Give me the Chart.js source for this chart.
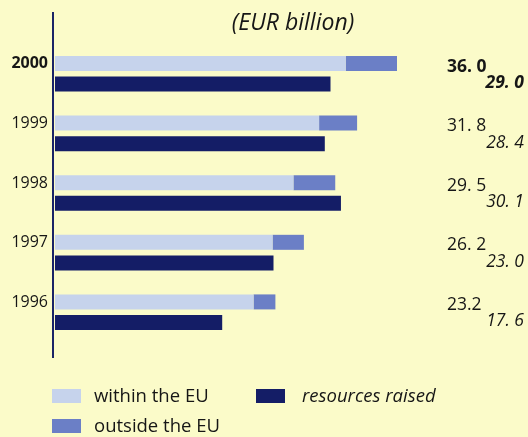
<html><head><meta charset="UTF-8"><title>EIB financing</title>
<style>
body { margin: 0; background: #fbfbc9; }
#wrap { position: relative; width: 528px; height: 437px; }
</style>
<script src="https://cdn.jsdelivr.net/npm/chart.js"></script>
</head>
<body>
<div id="wrap"><canvas id="eibChart" width="528" height="437"></canvas></div>
<script>
const years = ['2000', '1999', '1998', '1997', '1996'];
const withinEU = [30.6, 27.8, 25.1, 22.9, 20.9];
const outsideEU = [5.4, 4.0, 4.4, 3.3, 2.3];
const raised = [29.0, 28.4, 30.1, 23.0, 17.6];
const totalLabels = ['36. 0', '31. 8', '29. 5', '26. 2', '23.2'];
const raisedLabels = ['29. 0', '28. 4', '30. 1', '23. 0', '17. 6'];

const FONT = "'Open Sans', 'Noto Sans', sans-serif";
const INK = '#161616';

// axis line, title, value labels and legend
const extras = {
    id: 'extras',
    afterDraw(chart) {
        const ctx = chart.ctx;
        const area = chart.chartArea;
        ctx.save();

        ctx.fillStyle = '#1a2466';
        ctx.fillRect(area.left - 3, 12, 2, 346);

        ctx.fillStyle = INK;
        ctx.font = 'italic 23px ' + FONT;
        ctx.textAlign = 'center';
        ctx.textBaseline = 'middle';
        ctx.fillText('(EUR billion)', 293, 23);

        const outMeta = chart.getDatasetMeta(1);
        const rMeta = chart.getDatasetMeta(2);
        for (let i = 0; i < years.length; i++) {
            ctx.textAlign = 'left';
            ctx.font = (i === 0 ? 'bold ' : '') + '17.5px ' + FONT;
            ctx.fillText(totalLabels[i], 447, outMeta.data[i].y + 3);
            ctx.textAlign = 'right';
            ctx.font = 'italic ' + (i === 0 ? 'bold ' : '') + '17.5px ' + FONT;
            ctx.fillText(raisedLabels[i], 524, rMeta.data[i].y - 1);
        }

        const items = [
            { ds: 0, x: 52, y: 389, tx: 94 },
            { ds: 1, x: 52, y: 419, tx: 94 },
            { ds: 2, x: 256, y: 389, tx: 302 }
        ];
        items.forEach(it => {
            const d = chart.data.datasets[it.ds];
            ctx.fillStyle = d.backgroundColor;
            ctx.fillRect(it.x, it.y, 29, 14);
            ctx.fillStyle = INK;
            ctx.textAlign = 'left';
            ctx.font = (it.ds === 2 ? 'italic ' : '') + '18.5px ' + FONT;
            ctx.fillText(d.label, it.tx, it.y + 8);
        });
        ctx.restore();
    }
};

const chart = new Chart(document.getElementById('eibChart'), {
    type: 'bar',
    data: {
        labels: years,
        datasets: [
            { label: 'within the EU', data: withinEU, backgroundColor: '#c6d3ec', stack: 'lending' },
            { label: 'outside the EU', data: outsideEU, backgroundColor: '#6b7fc6', stack: 'lending' },
            { label: 'resources raised', data: raised, backgroundColor: '#141d66', stack: 'raised' }
        ]
    },
    options: {
        indexAxis: 'y',
        responsive: false,
        animation: false,
        categoryPercentage: 0.69,
        barPercentage: 0.73,
        layout: { padding: { top: 44, bottom: 95, left: 0, right: 93 } },
        plugins: {
            legend: { display: false },
            tooltip: { enabled: false }
        },
        scales: {
            x: { display: false, stacked: true, min: 0, max: 40 },
            y: {
                stacked: true,
                border: { display: false },
                grid: { display: false, drawTicks: false },
                afterFit(scale) { scale.width = 55; },
                ticks: {
                    padding: 7,
                    labelOffset: -10,
                    color: INK,
                    font: c => ({ family: FONT, size: 16, weight: c.index === 0 ? 'bold' : 'normal' })
                }
            }
        }
    },
    plugins: [extras]
});
</script>
</body></html>
